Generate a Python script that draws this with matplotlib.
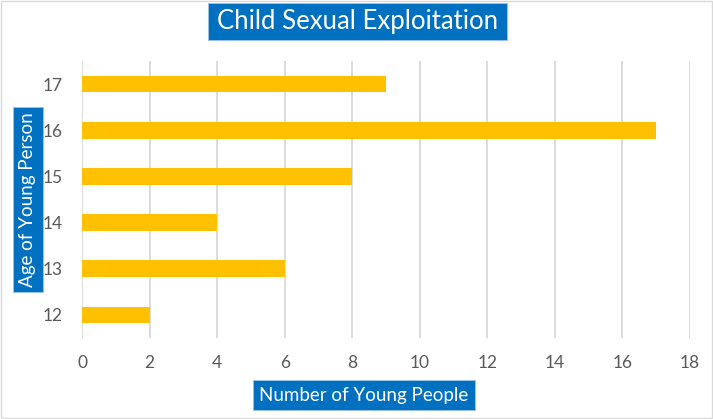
import matplotlib
matplotlib.use("Agg")
import matplotlib.pyplot as plt
from matplotlib.patches import Rectangle

ages = ["12", "13", "14", "15", "16", "17"]
counts = [2, 6, 4, 8, 17, 9]
x_ticks = [0, 2, 4, 6, 8, 10, 12, 14, 16, 18]

BLUE = "#0070C0"
GOLD = "#FFC000"
GREY = "#595959"
W, H = 713, 419

plt.rcParams["font.family"] = ["Lato", "DejaVu Sans"]

fig = plt.figure(figsize=(7.13, 4.19), dpi=100)
ax = fig.add_axes([82 / W, 1 - 338 / H, 608 / W, 277 / H])

ax.barh(ages, counts, height=0.36, color=GOLD, zorder=3)
ax.set_xlim(0, 18)
ax.set_ylim(-0.5, len(ages) - 0.5)
ax.set_xticks(x_ticks)
ax.xaxis.grid(True, color="#D9D9D9", linewidth=1.3, zorder=0)
for s in ax.spines.values():
    s.set_visible(False)
ax.tick_params(length=0, labelsize=12.5, colors=GREY)
ax.tick_params(axis="x", pad=12)
ax.tick_params(axis="y", pad=14)


def label_box(x0, y0, x1, y1, text, size, rot=0):
    # blue box given in pixel coords, white text centred on it
    fig.patches.append(Rectangle((x0 / W, 1 - y1 / H), (x1 - x0) / W, (y1 - y0) / H,
                                 transform=fig.transFigure, fc=BLUE, ec="#9DC3E6", lw=0.6))
    fig.text((x0 + x1) / 2 / W, 1 - (y0 + y1) / 2 / H, text, color="white",
             fontsize=size, ha="center", va="center", rotation=rot)


label_box(208, 3, 507, 40, "Child Sexual Exploitation", 18.5)
label_box(253, 380, 475, 410, "Number of Young People", 13.5)
label_box(13, 107, 43, 292, "Age of Young Person", 13.5, rot=90)

# light frame round the chart
fig.patches.append(Rectangle((0.002, 0.003), 0.996, 0.994, transform=fig.transFigure,
                             fill=False, ec="#D9D9D9", lw=1))

plt.savefig("out.png", dpi=100)
plt.close()
